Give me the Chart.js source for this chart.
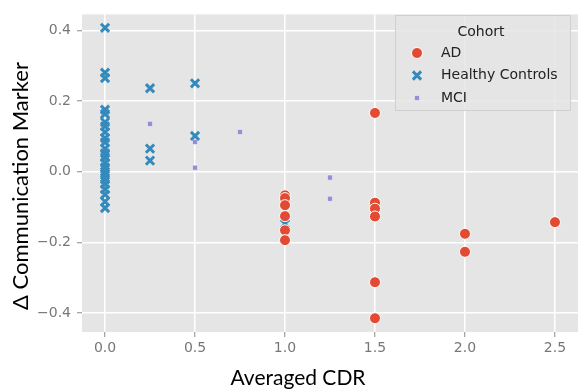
<!DOCTYPE html>
<html lang="en">
<head>
    <meta charset="UTF-8">
    <title>CDR vs communication marker</title>
    <script src="https://cdn.jsdelivr.net/npm/chart.js@4.4.1/dist/chart.umd.min.js"></script>
    <style>
        body { margin: 0; background: #fff; }
    </style>
</head>
<body>
    <canvas id="chart" width="582" height="392"></canvas>
    <script>
        // values
        const adCdr = [1.0, 1.0, 1.0, 1.0, 1.0, 1.0, 1.5, 1.5, 1.5, 1.5, 1.5, 1.5, 2.0, 2.0, 2.5];
        const adMarker = [-0.067, -0.075, -0.095, -0.126, -0.166, -0.194, 0.166, -0.088, -0.105, -0.127, -0.313, -0.415, -0.176, -0.227, -0.143];

        const hcCdr = [0, 0, 0, 0, 0, 0, 0, 0, 0, 0, 0, 0, 0, 0, 0, 0, 0, 0, 0, 0, 0, 0, 0,
            0.25, 0.25, 0.25, 0.5, 0.5, 1.0];
        const hcMarker = [0.407, 0.28, 0.265, 0.175, 0.163, 0.14, 0.128, 0.112, 0.095, 0.083, 0.065, 0.052,
            0.04, 0.025, 0.012, 0.0, -0.01, -0.022, -0.035, -0.05, -0.065, -0.085, -0.103,
            0.236, 0.065, 0.031, 0.25, 0.101, -0.148];

        const mciCdr = [0.25, 0.5, 0.5, 0.75, 1.25, 1.25];
        const mciMarker = [0.135, 0.084, 0.011, 0.112, -0.017, -0.077];

        const xTicks = [0, 0.5, 1.0, 1.5, 2.0, 2.5];
        const yTicks = [-0.4, -0.2, 0, 0.2, 0.4];

        const legendTitle = 'Cohort';
        const xTitle = 'Averaged CDR';
        const yTitle = '\u0394 Communication Marker';

        function toPoints(xs, ys) {
            return xs.map((x, i) => ({ x: x, y: ys[i] }));
        }

        function drawMarker(ctx, ds, x, y) {
            ctx.save();
            ctx.fillStyle = ds.backgroundColor;
            ctx.strokeStyle = ds.borderColor;
            ctx.lineWidth = ds.borderWidth;
            Chart.helpers.drawPoint(ctx, {
                pointStyle: ds.pointStyle,
                radius: ds.pointRadius,
                borderWidth: ds.borderWidth,
                rotation: 0
            }, x, y);
            ctx.restore();
        }

        // grey panel behind the plot, ggplot style
        const panelBg = {
            id: 'panelBg',
            beforeDraw(chart) {
                const { ctx, chartArea: a } = chart;
                ctx.save();
                ctx.fillStyle = '#e5e5e5';
                ctx.fillRect(a.left, a.top, a.right - a.left, a.bottom - a.top);
                ctx.restore();
            }
        };

        // axis titles + legend box drawn by hand so they sit where the original has them
        const extras = {
            id: 'extras',
            afterDraw(chart) {
                const ctx = chart.ctx;
                ctx.save();
                ctx.fillStyle = '#000';
                ctx.font = '21px Lato';
                ctx.textAlign = 'center';
                ctx.textBaseline = 'middle';
                ctx.fillText(xTitle, 298, 378);
                ctx.translate(21, 186);
                ctx.rotate(-Math.PI / 2);
                ctx.font = '22px Lato';
                ctx.fillText(yTitle, 0, 0);
                ctx.restore();

                // legend box
                ctx.save();
                ctx.fillStyle = 'rgba(229,229,229,0.85)';
                ctx.strokeStyle = '#cfcfcf';
                ctx.lineWidth = 1;
                ctx.beginPath();
                ctx.rect(395.5, 15.5, 175, 95);
                ctx.fill();
                ctx.stroke();
                ctx.fillStyle = '#222';
                ctx.textBaseline = 'middle';
                ctx.textAlign = 'center';
                ctx.font = '14px "DejaVu Sans"';
                ctx.fillText(legendTitle, 481, 32);
                ctx.textAlign = 'left';
                chart.data.datasets.forEach((ds, i) => {
                    const y = 53 + i * 22.5;
                    drawMarker(ctx, ds, 417, y);
                    ctx.fillStyle = '#222';
                    ctx.fillText(ds.label, 441, y);
                });
                ctx.restore();
            }
        };

        const ctx = document.getElementById('chart').getContext('2d');
        const myChart = new Chart(ctx, {
            type: 'scatter',
            data: {
                datasets: [{
                    label: 'AD',
                    data: toPoints(adCdr, adMarker),
                    pointStyle: 'circle',
                    pointRadius: 5.5,
                    backgroundColor: '#E24A33',
                    borderColor: '#ffffff',
                    borderWidth: 1
                }, {
                    label: 'Healthy Controls',
                    data: toPoints(hcCdr, hcMarker),
                    pointStyle: 'crossRot',
                    pointRadius: 5.8,
                    backgroundColor: '#348ABD',
                    borderColor: '#348ABD',
                    borderWidth: 3
                }, {
                    label: 'MCI',
                    data: toPoints(mciCdr, mciMarker),
                    pointStyle: 'rect',
                    pointRadius: 3.6,
                    backgroundColor: '#988ED5',
                    borderColor: '#ffffff',
                    borderWidth: 0.5
                }]
            },
            options: {
                responsive: false,
                animation: false,
                layout: { autoPadding: false, padding: { top: 12, right: 4, left: 0, bottom: 0 } },
                plugins: {
                    legend: { display: false },
                    tooltip: { enabled: false }
                },
                scales: {
                    x: {
                        type: 'linear',
                        min: -0.128,
                        max: 2.628,
                        afterFit(scale) {
                            scale.height = 60;
                        },
                        afterBuildTicks(scale) { scale.ticks = xTicks.map(v => ({ value: v })); },
                        border: { display: false },
                        grid: { color: '#ffffff', lineWidth: 1.5, tickColor: '#888', tickLength: 5, tickWidth: 1 },
                        ticks: {
                            color: '#777',
                            padding: 3,
                            font: { family: 'DejaVu Sans', size: 14 },
                            maxRotation: 0,
                            callback: v => v.toFixed(1)
                        }
                    },
                    y: {
                        min: -0.454,
                        max: 0.445,
                        afterFit(scale) {
                            scale.width = 82;
                        },
                        afterBuildTicks(scale) { scale.ticks = yTicks.map(v => ({ value: v })); },
                        border: { display: false },
                        grid: { color: '#ffffff', lineWidth: 1.5, tickColor: '#888', tickLength: 5, tickWidth: 1 },
                        ticks: {
                            color: '#777',
                            padding: 6,
                            font: { family: 'DejaVu Sans', size: 14 },
                            callback: v => v.toFixed(1).replace('-', '\u2212')
                        }
                    }
                }
            },
            plugins: [panelBg, extras]
        });
    </script>
</body>
</html>
